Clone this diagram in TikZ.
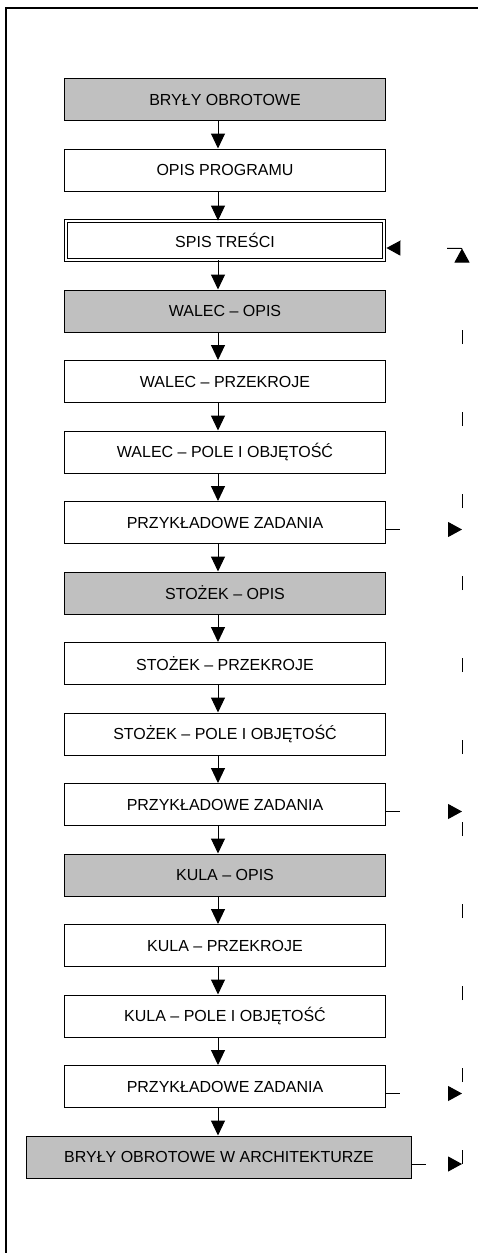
\documentclass[tikz,border=0pt]{standalone}
\usepackage{fontspec}
\setmainfont{Liberation Sans}
\usetikzlibrary{arrows.meta}
\definecolor{szary}{RGB}{192,192,192}

\begin{document}
\begin{tikzpicture}[
    x=1pt, y=-1pt,
    box/.style={draw, line width=1pt, minimum width=321pt, minimum height=42pt, inner sep=0pt, font=\fontsize{16}{18}\selectfont},
    grey/.style={box, fill=szary},
    arrow/.style={-{Triangle[length=15pt, width=14pt]}, line width=1pt},
    back/.style={-{Triangle[length=14pt, width=15pt]}, line width=1pt, dash pattern=on 14pt off 300pt}
]
\useasboundingbox (0,0) rectangle (478,1253);

% Ramka
\draw[line width=2pt] (6,1253) -- (6,8) -- (478,8);

% Bloki
\node[grey] (bryly) at (225,99.5) {BRYŁY OBROTOWE};
\node[box] (opis) at (225,170) {OPIS PROGRAMU};
\node[box, double, double distance=2.2pt, line width=0.9pt, minimum width=318pt, minimum height=39pt] (spis) at (225,240.5) {SPIS TREŚCI};

\node[grey] (walec) at (225,311) {WALEC – OPIS};
\node[box] (walecp) at (225,381.5) {WALEC – PRZEKROJE};
\node[box] (walecv) at (225,452) {WALEC – POLE I OBJĘTOŚĆ};
\node[box] (zad1) at (225,522.5) {PRZYKŁADOWE ZADANIA};

\node[grey] (stozek) at (225,593) {STOŻEK – OPIS};
\node[box] (stozekp) at (225,663.5) {STOŻEK – PRZEKROJE};
\node[box] (stozekv) at (225,734) {STOŻEK – POLE I OBJĘTOŚĆ};
\node[box] (zad2) at (225,804.5) {PRZYKŁADOWE ZADANIA};

\node[grey] (kula) at (225,875) {KULA – OPIS};
\node[box] (kulap) at (225,945.5) {KULA – PRZEKROJE};
\node[box] (kulav) at (225,1016) {KULA – POLE I OBJĘTOŚĆ};
\node[box] (zad3) at (225,1086.5) {PRZYKŁADOWE ZADANIA};

\node[grey, minimum width=385pt] (arch) at (219,1157) {BRYŁY OBROTOWE W ARCHITEKTURZE};

% Strzalki w dol
\coordinate (axis) at (218,0);
\foreach \a/\b in {bryly/opis, opis/spis, spis/walec, walec/walecp, walecp/walecv, walecv/zad1,
    zad1/stozek, stozek/stozekp, stozekp/stozekv, stozekv/zad2, zad2/kula, kula/kulap,
    kulap/kulav, kulav/zad3, zad3/arch}
    \draw[arrow] (\a.south -| axis) -- (\b.north -| axis);

% Powrot do spisu
\coordinate (z1) at (462,529.5);
\coordinate (z2) at (462,811.5);
\coordinate (z3) at (462,1093.5);
\coordinate (z4) at (462,1164);
\coordinate (top) at (462,248.5);

\draw[back] ([yshift=-7pt]zad1.east) -- (z1);
\draw[back] ([yshift=-7pt]zad2.east) -- (z2);
\draw[back] ([yshift=-7pt]zad3.east) -- (z3);
\draw[back] ([yshift=-7pt]arch.east) -- (z4);
\draw[back, dash pattern=on 14pt off 68pt] (z4) -- (top);
\draw[back, dash pattern=on 15pt off 300pt] (top) -- ([xshift=2pt, yshift=-7.5pt]spis.east);

\end{tikzpicture}
\end{document}
